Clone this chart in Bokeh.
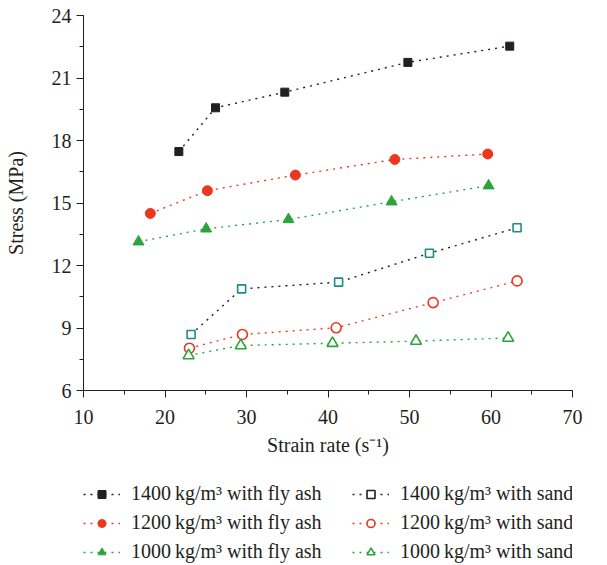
from bokeh.plotting import figure
from bokeh.models import Legend, LegendItem, SingleIntervalTicker, Range1d
from bokeh.layouts import column
from bokeh.embed import file_html
from bokeh.resources import INLINE

# Data
fa1400_x = [21.7, 26.2, 34.7, 49.8, 62.3]
fa1400_y = [17.47, 19.57, 20.32, 21.75, 22.53]
fa1200_x = [18.2, 25.2, 36.0, 48.2, 59.6]
fa1200_y = [14.5, 15.59, 16.34, 17.09, 17.35]
fa1000_x = [16.75, 25.05, 35.15, 47.8, 59.7]
fa1000_y = [13.14, 13.76, 14.21, 15.06, 15.83]
sd1400_x = [23.2, 29.4, 41.3, 52.45, 63.2]
sd1400_y = [8.69, 10.88, 11.2, 12.59, 13.81]
sd1200_x = [23.0, 29.5, 41.0, 52.9, 63.2]
sd1200_y = [8.03, 8.69, 9.01, 10.22, 11.26]
sd1000_x = [22.9, 29.3, 40.55, 50.8, 62.1]
sd1000_y = [7.68, 8.16, 8.27, 8.37, 8.52]

labels = [
    "1400\u2009kg/m\u00b3 with fly ash",
    "1200\u2009kg/m\u00b3 with fly ash",
    "1000\u2009kg/m\u00b3 with fly ash",
    "1400\u2009kg/m\u00b3 with sand",
    "1200\u2009kg/m\u00b3 with sand",
    "1000\u2009kg/m\u00b3 with sand",
]

BLACK = "#231f20"
RED = "#e8391f"
GREEN = "#2ba53b"
TEAL = "#1e8a8a"
FONT = "Liberation Serif"
DASH = "2 5"
FS = "20px"

series = [
    (fa1400_x, fa1400_y, BLACK, "square", 8, BLACK, BLACK, BLACK),
    (fa1200_x, fa1200_y, RED, "circle", 10, RED, RED, RED),
    (fa1000_x, fa1000_y, GREEN, "triangle", 11, GREEN, GREEN, GREEN),
    (sd1400_x, sd1400_y, BLACK, "square", 8, "white", TEAL, BLACK),
    (sd1200_x, sd1200_y, RED, "circle", 10, "white", RED, RED),
    (sd1000_x, sd1000_y, GREEN, "triangle", 11, "white", GREEN, GREEN),
]

p = figure(width=599, height=470, output_backend="svg", toolbar_location=None,
           x_range=Range1d(10, 70), y_range=Range1d(6, 24),
           min_border_left=83, min_border_right=27, min_border_top=15,
           min_border_bottom=80)
p.outline_line_color = None
p.grid.visible = False

# legend-only figure (hidden NaN renderers used just for legend glyphs)
lf = figure(width=599, height=95, output_backend="svg", toolbar_location=None,
            x_range=Range1d(0, 1), y_range=Range1d(0, 1),
            x_axis_location=None, y_axis_location=None,
            min_border_left=83, min_border_right=27, min_border_top=0,
            min_border_bottom=0)
lf.outline_line_color = None
lf.grid.visible = False

NAN = [float("nan")]
items = []
for (xs, ys, lc, mk, sz, fc, mc, legc), lab in zip(series, labels):
    open_m = fc == "white"
    p.line(xs, ys, line_color=lc, line_dash=DASH, line_width=1.4)
    p.scatter(xs, ys, marker=mk, size=sz, fill_color=fc, line_color=mc,
              line_width=1.6 if open_m else 1)
    ll = lf.line(NAN, NAN, line_color=lc, line_dash=DASH, line_width=1.4)
    lm = lf.scatter(NAN, NAN, marker=mk, size=sz, fill_color=fc, line_color=legc,
                    line_width=1.6 if open_m else 1)
    items.append(LegendItem(label=lab, renderers=[ll, lm]))

# axes
p.xaxis.ticker = SingleIntervalTicker(interval=10, num_minor_ticks=2)
p.yaxis.ticker = SingleIntervalTicker(interval=3, num_minor_ticks=2)
for ax in (p.xaxis, p.yaxis):
    ax.axis_line_color = BLACK
    ax.major_tick_line_color = BLACK
    ax.minor_tick_line_color = BLACK
    ax.major_tick_out = 7
    ax.major_tick_in = 0
    ax.minor_tick_out = 4
    ax.minor_tick_in = 0
    ax.major_label_text_font = FONT
    ax.major_label_text_font_size = FS
    ax.major_label_text_color = BLACK
    ax.axis_label_text_font = FONT
    ax.axis_label_text_font_size = FS
    ax.axis_label_text_font_style = "normal"
    ax.axis_label_text_color = BLACK
p.xaxis.axis_label = "Strain rate (s\u207b\u00b9)"
p.yaxis.axis_label = "Stress (MPa)"
p.xaxis.major_label_standoff = 12
p.xaxis.axis_label_standoff = 7
p.yaxis.major_label_standoff = 5
p.yaxis.axis_label_standoff = 22


def make_legend(its, loc):
    lg = Legend(items=its, location=loc, orientation="vertical")
    lg.label_text_font = FONT
    lg.label_text_font_size = FS
    lg.label_text_color = BLACK
    lg.glyph_width = 37
    lg.glyph_height = 20
    lg.label_height = 20
    lg.label_standoff = 11
    lg.spacing = 6
    lg.border_line_color = None
    lg.background_fill_alpha = 0
    lg.padding = 0
    lg.margin = 0
    return lg


lf.add_layout(make_legend(items[:3], (0, 2)), "center")
lf.add_layout(make_legend(items[3:], (269, 2)), "center")

layout = column(p, lf, spacing=0)
open("out.html", "w").write(file_html(layout, INLINE))
